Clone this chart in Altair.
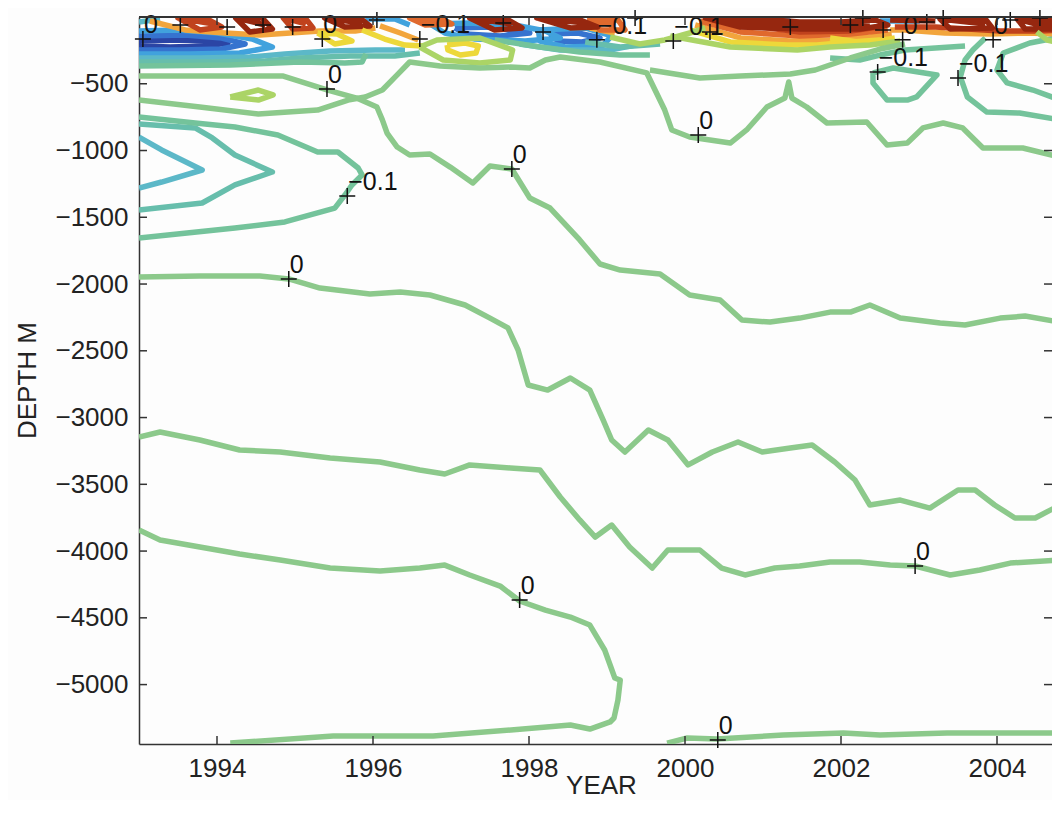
import altair as alt
import pandas as pd

# ---------------- axes ----------------
YEAR_TICKS = [1994, 1996, 1998, 2000, 2002, 2004]
DEPTH_TICKS = [-500, -1000, -1500, -2000, -2500, -3000, -3500, -4000, -4500, -5000]
X_DOMAIN = [1993.0, 2004.705]
Y_DOMAIN = [-5445, 0]

# contour levels and their colours
LEVELS = ["-0.6", "-0.5", "-0.4", "-0.3", "-0.2", "-0.1", "0", "0.1", "0.2", "0.3", "0.4", "0.5", "0.6"]
LEVEL_COLORS = ["#2B45A5", "#3673CF", "#41A2DD", "#5CB8C8", "#67BEAC", "#74C39B", "#8CC98B",
                "#ABD466", "#EDD83A", "#F2A53C", "#E0692D", "#C0421D", "#96270F"]

# ---------------- contour lines (year, depth m) ----------------
ZERO_A = [(1993.00, -442), (1993.78, -442), (1994.85, -442), (1995.42, -547), (1995.79, -607), (1996.05, -674),
          (1996.12, -771), (1996.18, -869), (1996.31, -974), (1996.47, -1034), (1996.73, -1026), (1996.99, -1124),
          (1997.28, -1243), (1997.50, -1116), (1997.78, -1138), (1998.01, -1356), (1998.27, -1431), (1998.65, -1670),
          (1998.91, -1850), (1999.17, -1895), (1999.68, -1925), (2000.06, -2082), (2000.45, -2120), (2000.73, -2270),
          (2001.09, -2285), (2001.47, -2255), (2001.86, -2210), (2002.12, -2210), (2002.37, -2157), (2002.76, -2255),
          (2003.27, -2292), (2003.59, -2307), (2004.04, -2255), (2004.36, -2240), (2004.81, -2285)]
ZERO_B = [(1993.00, -1947), (1993.78, -1940), (1994.55, -1940), (1994.92, -1962), (1995.32, -2030), (1995.96, -2075),
          (1996.35, -2060), (1996.73, -2082), (1997.18, -2157), (1997.50, -2255), (1997.73, -2329), (1997.86, -2494),
          (1997.99, -2756), (1998.24, -2794), (1998.53, -2704), (1998.78, -2794), (1998.95, -3018), (1999.06, -3168),
          (1999.23, -3258), (1999.53, -3093), (1999.78, -3168), (2000.04, -3355), (2000.35, -3258), (2000.68, -3183),
          (2000.99, -3258), (2001.35, -3228), (2001.63, -3206), (2001.92, -3333), (2002.18, -3468), (2002.37, -3655),
          (2002.76, -3618), (2003.14, -3678), (2003.50, -3543), (2003.72, -3543), (2003.97, -3655), (2004.23, -3752),
          (2004.49, -3752), (2004.81, -3655)]
ZERO_C = [(1993.00, -3146), (1993.27, -3108), (1993.78, -3168), (1994.29, -3243), (1994.81, -3258), (1995.45, -3303),
          (1996.09, -3333), (1996.60, -3393), (1996.92, -3423), (1997.24, -3355), (1997.76, -3378), (1998.14, -3393),
          (1998.40, -3595), (1998.65, -3767), (1998.85, -3895), (1999.06, -3805), (1999.29, -3970), (1999.58, -4127),
          (1999.78, -3992), (2000.19, -3992), (2000.47, -4127), (2000.77, -4179), (2001.15, -4127), (2001.47, -4112),
          (2001.86, -4082), (2002.24, -4082), (2002.63, -4105), (2002.95, -4112), (2003.40, -4179), (2003.78, -4142),
          (2004.17, -4090), (2004.81, -4067)]
ZERO_D = [(1993.00, -3842), (1993.27, -3917), (1993.78, -3970), (1994.29, -4022), (1994.81, -4067), (1995.45, -4127),
          (1996.09, -4150), (1996.60, -4127), (1996.92, -4105), (1997.24, -4179), (1997.63, -4262), (1997.88, -4374),
          (1998.21, -4442), (1998.53, -4494), (1998.78, -4554), (1998.97, -4741), (1999.10, -4951), (1999.17, -4966),
          (1999.14, -5116), (1999.09, -5250), (1999.04, -5280), (1998.78, -5333), (1998.53, -5303), (1997.92, -5333),
          (1996.77, -5385), (1995.49, -5385), (1994.17, -5438)]
ZERO_E = [(1999.77, -5438), (2000.03, -5400), (2000.41, -5408), (2001.26, -5378), (2002.03, -5363), (2002.50, -5378),
          (2003.36, -5363), (2004.81, -5363)]
ZERO_F = [(1993.00, -622), (1993.78, -674), (1994.53, -727), (1995.29, -697), (1995.68, -622), (1995.90, -599),
          (1996.12, -547), (1996.31, -434), (1996.47, -337), (1996.86, -367), (1997.37, -382), (1997.76, -375),
          (1998.01, -382), (1998.21, -322), (1998.40, -300), (1998.91, -337), (1999.51, -419), (1999.74, -697),
          (1999.83, -846), (2000.06, -899), (2000.58, -944), (2000.79, -846), (2001.05, -674), (2001.28, -607),
          (2001.33, -487), (2001.37, -607), (2001.56, -674), (2001.82, -794), (2002.33, -786), (2002.59, -959),
          (2002.85, -944), (2003.05, -831), (2003.31, -794), (2003.56, -831), (2003.82, -981), (2004.33, -981),
          (2004.81, -1049)]
ZERO_G = [(1999.55, -397), (2000.19, -457), (2000.71, -442), (2001.35, -427), (2001.67, -397), (2002.12, -307),
          (2002.50, -240), (2002.82, -202)]

NEG1_V = [(1993.00, -749), (1993.72, -794), (1994.23, -824), (1994.78, -884), (1995.29, -1011), (1995.55, -1011),
          (1995.81, -1131), (1995.86, -1183), (1995.73, -1258), (1995.64, -1333), (1995.51, -1431), (1994.87, -1535),
          (1994.23, -1580), (1993.37, -1633), (1993.00, -1655)]
NEG2_V = [(1993.00, -801), (1993.72, -831), (1993.94, -906), (1994.23, -1034), (1994.71, -1161), (1994.23, -1258),
          (1993.81, -1393), (1993.00, -1446)]
NEG3_V = [(1993.00, -899), (1993.29, -996), (1993.81, -1146), (1993.29, -1236), (1993.00, -1281)]
NEG1_LOOP = [(2002.41, -419), (2002.67, -382), (2003.23, -434), (2002.97, -599), (2002.85, -622), (2002.59, -622),
             (2002.41, -494), (2002.41, -419)]
NEG1_R1 = [(2003.85, -157), (2003.69, -247), (2003.59, -322), (2003.53, -449), (2003.62, -599), (2003.87, -712),
           (2004.29, -719), (2004.81, -771)]
NEG1_R2 = [(2004.81, -150), (2004.42, -195), (2004.08, -270), (2004.00, -397), (2004.13, -494), (2004.46, -547),
           (2004.81, -622)]
NEG1_TOP = [(1993.00, -367), (1994.17, -360), (1995.06, -337), (1995.64, -345), (1995.86, -337), (1995.91, -277)]
NEG1_MID = [(1997.56, -172), (1998.14, -225), (1998.65, -262), (1999.17, -285), (1999.55, -285)]
NEG1_RIGHT = [(2001.86, -307), (2002.24, -322), (2002.50, -285), (2002.82, -247), (2003.21, -232), (2003.59, -217)]
NEG2_TOP = [(1993.00, -337), (1993.91, -337), (1994.62, -330), (1995.06, -307), (1995.71, -292), (1996.28, -292),
            (1996.60, -270)]
NEG2_MID = [(1998.72, -187), (1999.17, -225), (1999.68, -202)]
NEG3_TOP = [(1993.00, -307), (1993.78, -307), (1994.42, -300), (1994.87, -277), (1995.45, -255), (1996.03, -247),
            (1996.41, -247)]
NEG3_EDGE = [(1993.00, -37), (1993.27, -15)]
NEG3_MID = [(1997.88, -202), (1998.40, -247), (1999.04, -247), (1999.36, -210)]
NEG4_LEFT = [(1993.00, -105), (1993.50, -97), (1994.01, -120), (1994.45, -165), (1994.71, -225), (1994.29, -270),
             (1993.65, -277), (1993.00, -277)]
NEG4_MID = [(1996.73, -52), (1997.24, -45), (1997.88, -67), (1998.21, -105), (1998.40, -157), (1997.95, -180),
            (1997.31, -165), (1996.92, -120), (1996.73, -52)]
NEG4_MID2 = [(1998.12, -97), (1998.72, -82), (1999.06, -142), (1998.94, -217), (1998.46, -225), (1998.14, -180),
             (1998.12, -97)]
NEG4_S1 = [(1995.90, -15), (1996.28, -15), (1996.47, -60)]
NEG4_S2 = [(2000.51, -15), (2001.35, -15)]
NEG4_S3 = [(2002.50, -30), (2003.01, -30)]
NEG5_LEFT = [(1993.00, -142), (1993.59, -135), (1994.06, -157), (1994.36, -202), (1994.06, -240), (1993.53, -247),
             (1993.00, -247)]
NEG5_L1 = [(1997.05, -82), (1997.50, -75), (1998.01, -120), (1997.63, -142), (1997.18, -127), (1997.05, -82)]
NEG5_L2 = [(1998.27, -127), (1998.63, -120), (1998.91, -157), (1998.68, -187), (1998.37, -180), (1998.27, -127)]
NEG6_LEFT = [(1993.00, -180), (1993.53, -172), (1993.94, -180), (1994.14, -195), (1993.85, -217), (1993.40, -225),
             (1993.00, -217)]

POS1_LOOP = [(1996.60, -225), (1996.82, -172), (1997.37, -157), (1997.79, -247), (1997.76, -322), (1997.37, -345),
             (1996.90, -322), (1996.60, -225)]
POS1_SMALL = [(1994.17, -599), (1994.53, -547), (1994.72, -584), (1994.53, -622), (1994.17, -599)]
POS1_A = [(1999.04, -150), (1999.42, -202), (1999.74, -172), (2000.06, -120), (2000.26, -82)]
POS1_B = [(1999.81, -142), (2000.58, -225), (2001.44, -247), (2001.86, -225), (2002.37, -210), (2002.76, -180)]
POS1_C = [(2004.51, -112), (2004.64, -172), (2004.81, -195)]
POS2_L1 = [(1995.29, -120), (1995.54, -127), (1995.73, -180), (1995.51, -202), (1995.29, -120)]
POS2_A = [(1995.86, -97), (1996.15, -165), (1996.41, -210), (1996.63, -217)]
POS2_L2 = [(1996.95, -210), (1997.18, -195), (1997.35, -217), (1997.32, -270), (1997.12, -285), (1996.96, -247),
           (1996.95, -210)]
POS2_B = [(2000.06, -97), (2000.58, -187), (2001.31, -210), (2001.69, -210), (2002.12, -187), (2002.50, -172)]
POS2_C = [(2001.86, -157), (2002.31, -195), (2002.69, -157)]
POS3_A = [(1993.14, -30), (1993.59, -97), (1994.10, -120), (1994.55, -135), (1994.94, -120), (1995.32, -105),
          (1995.77, -105), (1996.03, -82)]
POS3_B = [(1996.09, -67), (1996.35, -120), (1996.58, -172)]
POS3_C = [(2000.13, -60), (2000.71, -157), (2001.35, -180), (2001.86, -172), (2002.37, -150), (2002.65, -127)]
POS3_D = [(2002.63, -97), (2002.82, -97), (2003.33, -120), (2003.91, -127), (2004.36, -120), (2004.81, -127)]
POS3_E = [(1998.78, -82), (1999.10, -120)]
POS4_A = [(2000.19, -30), (2000.71, -112), (2001.47, -142), (2002.12, -127), (2002.60, -97)]
POS4_L1 = [(1996.47, -7), (1996.86, -7), (1997.01, -52), (1996.67, -60), (1996.47, -7), (1996.92, -37)]
POS4_L2 = [(1998.78, -15), (1999.14, -22), (1999.23, -97), (1998.91, -97), (1998.78, -15), (1999.10, -67)]
POS5_L1 = [(1993.50, -7), (1993.85, -7), (1994.06, -75), (1993.78, -97), (1993.50, -7), (1993.96, -52)]
POS5_L2 = [(1994.85, -7), (1995.13, -7), (1995.23, -82), (1994.97, -90), (1994.85, -7), (1995.14, -52)]
POS5_A = [(2000.35, -22), (2000.96, -75), (2001.47, -112), (2002.12, -105), (2002.56, -67)]
POS5_B = [(2002.69, -75), (2003.21, -75), (2004.04, -105), (2004.55, -105), (2004.81, -97)]
POS6_L1 = [(1994.24, -7), (1994.58, -7), (1994.71, -90), (1994.42, -112), (1994.24, -7), (1994.62, -60)]
POS6_L2 = [(1995.38, -7), (1995.83, -7), (1995.96, -67), (1995.64, -75), (1995.38, -7), (1995.86, -45)]
POS6_L3 = [(1997.24, -7), (1997.69, -7), (1997.91, -82), (1997.56, -97), (1997.24, -7), (1997.78, -52)]
POS6_L4 = [(1998.10, -7), (1998.59, -7), (1998.88, -75), (1998.53, -82), (1998.10, -7), (1998.72, -45)]
POS6_L5 = [(2000.26, -7), (2000.96, -15), (2001.47, -37), (2001.99, -37), (2002.44, -22), (2002.60, -60),
           (2002.24, -90), (2001.47, -90), (2000.71, -75), (2000.26, -7), (2000.71, -37), (2001.47, -60),
           (2002.37, -52)]
POS6_L6 = [(2003.27, -15), (2003.85, -15), (2003.94, -82), (2003.40, -90), (2003.27, -15), (2003.85, -52)]
POS6_L7 = [(2004.26, -15), (2004.81, -15), (2004.81, -90), (2004.36, -90), (2004.26, -15), (2004.49, -52),
           (2004.81, -52)]
POS6_A = [(2002.63, -22), (2003.21, -30)]

CONTOURS = [
    ("neg6_left", "-0.6", NEG6_LEFT),
    ("neg5_left", "-0.5", NEG5_LEFT), ("neg5_l1", "-0.5", NEG5_L1), ("neg5_l2", "-0.5", NEG5_L2),
    ("neg4_left", "-0.4", NEG4_LEFT), ("neg4_mid", "-0.4", NEG4_MID), ("neg4_mid2", "-0.4", NEG4_MID2),
    ("neg4_s1", "-0.4", NEG4_S1), ("neg4_s2", "-0.4", NEG4_S2), ("neg4_s3", "-0.4", NEG4_S3),
    ("neg3_top", "-0.3", NEG3_TOP), ("neg3_edge", "-0.3", NEG3_EDGE), ("neg3_mid", "-0.3", NEG3_MID),
    ("neg3_v", "-0.3", NEG3_V),
    ("neg2_top", "-0.2", NEG2_TOP), ("neg2_mid", "-0.2", NEG2_MID), ("neg2_v", "-0.2", NEG2_V),
    ("neg1_top", "-0.1", NEG1_TOP), ("neg1_mid", "-0.1", NEG1_MID), ("neg1_right", "-0.1", NEG1_RIGHT),
    ("neg1_v", "-0.1", NEG1_V), ("neg1_loop", "-0.1", NEG1_LOOP), ("neg1_r1", "-0.1", NEG1_R1),
    ("neg1_r2", "-0.1", NEG1_R2),
    ("pos3_a", "0.3", POS3_A), ("pos3_b", "0.3", POS3_B), ("pos3_c", "0.3", POS3_C), ("pos3_d", "0.3", POS3_D),
    ("pos3_e", "0.3", POS3_E),
    ("pos4_a", "0.4", POS4_A), ("pos4_l1", "0.4", POS4_L1), ("pos4_l2", "0.4", POS4_L2),
    ("pos5_l1", "0.5", POS5_L1), ("pos5_l2", "0.5", POS5_L2), ("pos5_a", "0.5", POS5_A), ("pos5_b", "0.5", POS5_B),
    ("pos6_l1", "0.6", POS6_L1), ("pos6_l2", "0.6", POS6_L2), ("pos6_l3", "0.6", POS6_L3),
    ("pos6_l4", "0.6", POS6_L4), ("pos6_l5", "0.6", POS6_L5), ("pos6_l6", "0.6", POS6_L6),
    ("pos6_l7", "0.6", POS6_L7), ("pos6_a", "0.6", POS6_A),
    ("pos2_l1", "0.2", POS2_L1), ("pos2_a", "0.2", POS2_A), ("pos2_l2", "0.2", POS2_L2), ("pos2_b", "0.2", POS2_B),
    ("pos2_c", "0.2", POS2_C),
    ("pos1_loop", "0.1", POS1_LOOP), ("pos1_small", "0.1", POS1_SMALL), ("pos1_a", "0.1", POS1_A),
    ("pos1_b", "0.1", POS1_B), ("pos1_c", "0.1", POS1_C),
    ("zero_a", "0", ZERO_A), ("zero_b", "0", ZERO_B), ("zero_c", "0", ZERO_C), ("zero_d", "0", ZERO_D),
    ("zero_e", "0", ZERO_E), ("zero_f", "0", ZERO_F), ("zero_g", "0", ZERO_G),
]

# ---------------- contour labels ('+' marks with text) ----------------
LABEL_YEARS = [1995.41, 1995.67, 1997.78, 1994.92, 2000.17, 2002.47, 2003.50, 1997.88, 2002.95, 2000.42,
               1993.05, 1995.35, 1996.60, 1998.87, 1999.85, 2002.79, 2003.95]
LABEL_DEPTHS = [-539, -1341, -1138, -1962, -884, -412, -457, -4367, -4112, -5415,
                -165, -165, -165, -170, -180, -170, -170]
LABEL_TEXT = ["0", "\u22120.1", "0", "0", "0", "\u22120.1", "\u22120.1", "0", "0", "0",
              "0", "0", "\u22120.1", "\u22120.1", "\u22120.1", "0", "0"]
# '+' marks whose labels are hidden in the crowded surface layer
MARK_YEARS = [1993.53, 1994.13, 1994.59, 1994.97, 1996.05, 1997.67, 1998.18, 2000.32, 2001.35, 2002.12,
              2002.54, 2003.10, 2004.17, 1999.36, 2002.28, 2003.31, 2004.55]
MARK_DEPTHS = [-60, -75, -60, -75, -22, -45, -112, -112, -75, -60,
               -97, -37, -22, -7, -7, -7, -7]

# ---------------- build tables ----------------
rows = []
for cid, level, pts in CONTOURS:
    for i, (yr, dp) in enumerate(pts):
        rows.append({"id": cid, "order": i, "year": yr, "depth": dp, "level": level})
line_df = pd.DataFrame(rows)
label_df = pd.DataFrame({"year": LABEL_YEARS, "depth": LABEL_DEPTHS, "text": LABEL_TEXT})
mark_df = pd.DataFrame({"year": LABEL_YEARS + MARK_YEARS, "depth": LABEL_DEPTHS + MARK_DEPTHS})
xtick_df = pd.DataFrame({"year": YEAR_TICKS})
ytick_df = pd.DataFrame({"depth": DEPTH_TICKS})

W, H = 913, 727
FONT = "Liberation Sans"
INK = "#222222"

xscale = alt.Scale(domain=X_DOMAIN, nice=False, zero=False)
yscale = alt.Scale(domain=Y_DOMAIN, nice=False, zero=False)
xaxis = alt.Axis(values=YEAR_TICKS, format="d", tickSize=0, labelPadding=11, labelFontSize=26,
                 labelColor=INK, labelFont=FONT, domainColor="#333333", domainWidth=1.5, grid=False,
                 title="YEAR", titleFontSize=26, titleFontWeight="normal", titleColor=INK, titleFont=FONT,
                 titleX=462, titleY=41, titleAlign="center", titleBaseline="middle")
yaxis = alt.Axis(values=DEPTH_TICKS, format="d", tickSize=0, labelPadding=11, labelFontSize=26,
                 labelColor=INK, labelFont=FONT, domainColor="#333333", domainWidth=1.5, grid=False,
                 title="DEPTH M", titleFontSize=26, titleFontWeight="normal", titleColor=INK, titleFont=FONT,
                 titleX=-112, titleY=363, titleAngle=270, titleAlign="center", titleBaseline="middle")

X = alt.X("year:Q", scale=xscale, axis=xaxis)
Y = alt.Y("depth:Q", scale=yscale, axis=yaxis)

lines = alt.Chart(line_df).mark_line(strokeWidth=5.5, strokeJoin="round", clip=True).encode(
    x=X, y=Y,
    color=alt.Color("level:N", scale=alt.Scale(domain=LEVELS, range=LEVEL_COLORS), legend=None),
    detail="id:N",
    order="order:Q",
)

plus = alt.Chart(mark_df).mark_point(shape="M-1,0L1,0M0,-1L0,1", size=256, filled=False,
                                     stroke="#111111", strokeWidth=1.5, opacity=1).encode(x=X, y=Y)

labels = alt.Chart(label_df).mark_text(align="left", baseline="alphabetic", dx=1, dy=-6, fontSize=25,
                                       font=FONT, color="#111111").encode(x=X, y=Y, text="text:N")

tick_style = dict(color="#333333", strokeWidth=1.5)
xt_bottom = alt.Chart(xtick_df).mark_rule(**tick_style).encode(x=X, y=alt.value(H), y2=alt.value(H - 8))
xt_top = alt.Chart(xtick_df).mark_rule(**tick_style).encode(x=X, y=alt.value(0), y2=alt.value(8))
yt_left = alt.Chart(ytick_df).mark_rule(**tick_style).encode(y=Y, x=alt.value(0), x2=alt.value(8))
yt_right = alt.Chart(ytick_df).mark_rule(**tick_style).encode(y=Y, x=alt.value(W - 8), x2=alt.value(W))
top_border = alt.Chart(xtick_df).mark_rule(color="#333333", strokeWidth=1.5).encode(
    x=alt.value(0), x2=alt.value(W), y=alt.value(0))

chart = alt.layer(lines, plus, labels, xt_bottom, xt_top, yt_left, yt_right, top_border).properties(
    width=W, height=H,
    autosize=alt.AutoSizeParams(type="none"),
    padding={"left": 131, "top": 9, "right": 0, "bottom": 56},
    background="#fdfdfd",
).configure_view(stroke=None)

chart.save("out.html", embed_options={"renderer": "svg", "actions": False})
